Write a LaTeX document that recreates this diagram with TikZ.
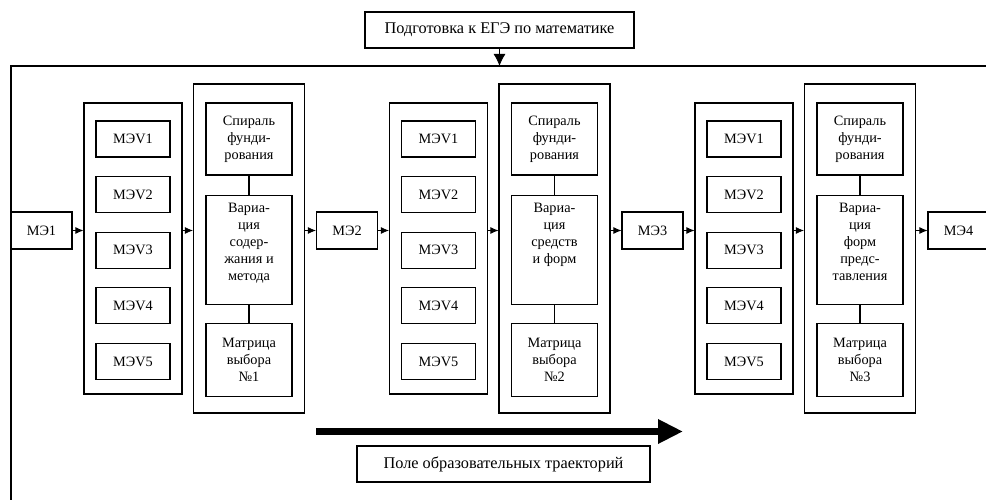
\documentclass[tikz,border=0pt]{standalone}
\usepackage{fontspec}
\setmainfont{Liberation Serif}
\usetikzlibrary{arrows.meta, positioning}

\begin{document}
\begin{tikzpicture}[x=1pt, y=-1pt, font=\fontsize{14.3}{17}\selectfont,
    blk/.style={draw, line width=1.1pt, align=center, inner sep=2pt},
    wide/.style={blk, font=\fontsize{16.3}{19}\selectfont},
    me/.style={blk, minimum width=61pt, minimum height=37pt},
    mev/.style={blk, minimum width=74pt, minimum height=36pt},
    col/.style={blk, minimum width=98pt, minimum height=291pt},
    big/.style={blk, minimum width=111pt, minimum height=329pt},
    inbox/.style={blk, minimum width=86pt},
    varbox/.style={inbox, minimum height=109pt},
    vtxt/.style={anchor=north, align=center, inner sep=0pt, yshift=-8pt},
    arrow/.style={-{Latex[length=8pt,width=7pt]}, line width=0.8pt}]
    \useasboundingbox (0,0) rectangle (986,500);

    \node[wide, minimum width=269pt, minimum height=36pt] (prep) at (499.5,30) {Подготовка к ЕГЭ по математике};
    \coordinate (ftop) at (499.5,66);
    \draw[line width=1.1pt] (990,66) -- (11,66) -- (11,504);
    \draw[-{Latex[length=12pt,width=12pt]}, line width=0.8pt] (prep) -- (ftop);

    % stage 1
    \node[me] (me1) at (41.5,230.5) {МЭ1};
    \node[col] (col1) at (133,248.5) {};
    \node[mev] (v11) at (133,139) {МЭV1};
    \node[mev, below=18.5pt of v11] (v12) {МЭV2};
    \node[mev, below=18.5pt of v12] (v13) {МЭV3};
    \node[mev, below=18.5pt of v13] (v14) {МЭV4};
    \node[mev, below=18.5pt of v14] (v15) {МЭV5};
    \node[big] (big1) at (249,248.5) {};
    \node[inbox, minimum height=72pt] (sp1) at (249,139) {Спираль\\фунди-\\рования};
    \node[varbox, below=19pt of sp1] (var1) {};
    \node[vtxt] at (var1.north) {Вариа-\\ция\\содер-\\жания и\\метода};
    \node[inbox, minimum height=73pt, below=18pt of var1] (mat1) {Матрица\\выбора\\№1};
    \draw[line width=1.1pt] (sp1) -- (var1) (var1) -- (mat1);

    % stage 2
    \node[me] (me2) at (347,230.5) {МЭ2};
    \node[col] (col2) at (438.5,248.5) {};
    \node[mev] (v21) at (438.5,139) {МЭV1};
    \node[mev, below=18.5pt of v21] (v22) {МЭV2};
    \node[mev, below=18.5pt of v22] (v23) {МЭV3};
    \node[mev, below=18.5pt of v23] (v24) {МЭV4};
    \node[mev, below=18.5pt of v24] (v25) {МЭV5};
    \node[big] (big2) at (554.5,248.5) {};
    \node[inbox, minimum height=72pt] (sp2) at (554.5,139) {Спираль\\фунди-\\рования};
    \node[varbox, below=19pt of sp2] (var2) {};
    \node[vtxt] at (var2.north) {Вариа-\\ция\\средств\\и форм};
    \node[inbox, minimum height=73pt, below=18pt of var2] (mat2) {Матрица\\выбора\\№2};
    \draw[line width=1.1pt] (sp2) -- (var2) (var2) -- (mat2);

    % stage 3
    \node[me] (me3) at (652.5,230.5) {МЭ3};
    \node[col] (col3) at (744,248.5) {};
    \node[mev] (v31) at (744,139) {МЭV1};
    \node[mev, below=18.5pt of v31] (v32) {МЭV2};
    \node[mev, below=18.5pt of v32] (v33) {МЭV3};
    \node[mev, below=18.5pt of v33] (v34) {МЭV4};
    \node[mev, below=18.5pt of v34] (v35) {МЭV5};
    \node[big] (big3) at (860,248.5) {};
    \node[inbox, minimum height=72pt] (sp3) at (860,139) {Спираль\\фунди-\\рования};
    \node[varbox, below=19pt of sp3] (var3) {};
    \node[vtxt] at (var3.north) {Вариа-\\ция\\форм\\предс-\\тавления};
    \node[inbox, minimum height=73pt, below=18pt of var3] (mat3) {Матрица\\выбора\\№3};
    \draw[line width=1.1pt] (sp3) -- (var3) (var3) -- (mat3);

    \node[me] (me4) at (958.5,230.5) {МЭ4};

    \draw[arrow] (me1.east) -- (me1.east -| col1.west);
    \draw[arrow] (me1.east -| col1.east) -- (me1.east -| big1.west);
    \draw[arrow] (me1.east -| big1.east) -- (me2.west);
    \draw[arrow] (me2.east) -- (me2.east -| col2.west);
    \draw[arrow] (me2.east -| col2.east) -- (me2.east -| big2.west);
    \draw[arrow] (me2.east -| big2.east) -- (me3.west);
    \draw[arrow] (me3.east) -- (me3.east -| col3.west);
    \draw[arrow] (me3.east -| col3.east) -- (me3.east -| big3.west);
    \draw[arrow] (me3.east -| big3.east) -- (me4.west);

    \coordinate (ts) at (316,431.5);
    \coordinate (te) at (683,431.5);
    \draw[line width=7pt, -{Triangle[length=25pt,width=23pt]}] (ts) -- (te);
    \node[wide, minimum width=293pt, minimum height=36pt] (field) at (503.5,464) {Поле образовательных траекторий};
\end{tikzpicture}
\end{document}
